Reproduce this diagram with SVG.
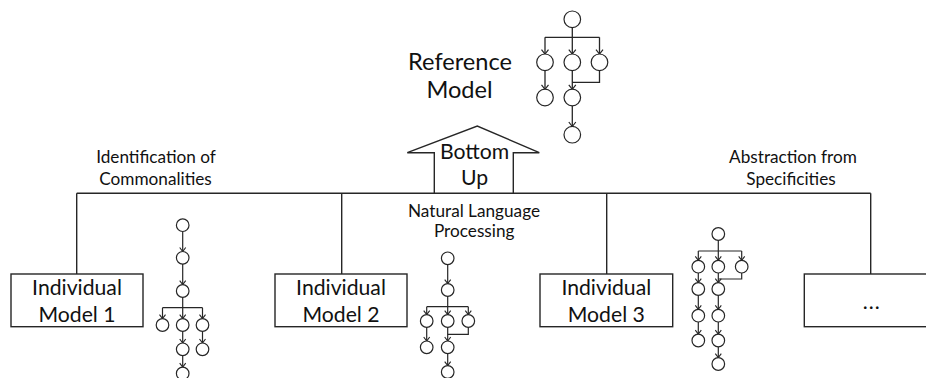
<svg xmlns="http://www.w3.org/2000/svg" width="926" height="378" viewBox="0 0 926 378">
  <defs>
    <marker id="tipL" markerUnits="userSpaceOnUse" markerWidth="12" markerHeight="12" refX="0" refY="0" viewBox="-6 -6 12 12" orient="auto" overflow="visible">
      <path d="M-4.5,-3.5 L0,0 L-4.5,3.5" fill="none" stroke="#262626" stroke-width="1.2"/>
    </marker>
    <marker id="tipS" markerUnits="userSpaceOnUse" markerWidth="10" markerHeight="10" refX="0" refY="0" viewBox="-5 -5 10 10" orient="auto" overflow="visible">
      <path d="M-4,-3 L0,0 L-4,3" fill="none" stroke="#262626" stroke-width="1.1"/>
    </marker>
  </defs>
  <style>
    .ln { fill: none; stroke: #262626; stroke-width: 1.4; }
    .box { fill: #fff; stroke: #262626; stroke-width: 1.4; }
    .st { fill: #fff; stroke: #262626; stroke-width: 1.2; }
    .e { fill: none; stroke: #262626; stroke-width: 1.2; }
    .eL { fill: none; stroke: #262626; stroke-width: 1.3; }
    .a { marker-end: url(#tipS); }
    .aL { marker-end: url(#tipL); }
    text { font-family: Lato, "Liberation Sans", sans-serif; fill: #111; text-anchor: middle; }
    .big { font-size: 23.6px; }
    .mid { font-size: 21.2px; }
    .sm { font-size: 17.2px; }
  </style>
  <rect width="926" height="378" fill="#fff"/>

  <!-- hierarchy lines from the individual models up to the reference model -->
  <g id="connectors">
    <path class="ln" d="M76.7,193.3 H870.7"/>
    <path class="ln" d="M76.7,193.3 V274"/>
    <path class="ln" d="M341.7,193.3 V274"/>
    <path class="ln" d="M606.7,193.3 V274"/>
    <path class="ln" d="M870.7,193.3 V274"/>
  </g>

  <!-- bottom-up arrow -->
  <g id="bottom-up">
    <polyline class="ln" points="434.3,193.3 434.3,152.7 407.3,152.7 477.3,126 539.3,152.7 513.3,152.7 513.3,193.3" fill="#fff"/>
    <text class="mid" x="474.5" y="159.3">Bottom</text>
    <text class="mid" x="474.7" y="185">Up</text>
  </g>

  <!-- reference model -->
  <g id="reference-model">
    <text class="big" x="460" y="70">Reference</text>
    <text class="big" x="459.5" y="98.3">Model</text>
    <g id="reference-graph">
      <path class="eL" d="M572.3,27.3 V37.3 M545,37.3 H599.5"/>
      <path class="eL aL" d="M545,37.3 V54.1"/>
      <path class="eL aL" d="M572.3,37.3 V54.1"/>
      <path class="eL aL" d="M599.5,37.3 V54.1"/>
      <path class="eL aL" d="M545,70.5 V89.3"/>
      <path class="eL aL" d="M572.3,70.5 V89.3"/>
      <path class="eL" d="M599.5,70.5 V82.3 H572.3"/>
      <path class="eL aL" d="M572.3,105.7 V126.5"/>
      <circle class="st" cx="572.3" cy="19.3" r="8.3"/>
      <circle class="st" cx="545" cy="62.3" r="8.3"/>
      <circle class="st" cx="572.3" cy="62.3" r="8.3"/>
      <circle class="st" cx="599.5" cy="62.3" r="8.3"/>
      <circle class="st" cx="545" cy="97.5" r="8.3"/>
      <circle class="st" cx="572.3" cy="97.5" r="8.3"/>
      <circle class="st" cx="572.3" cy="134.7" r="8.3"/>
    </g>
  </g>

  <!-- side labels -->
  <g id="label-commonalities">
    <text class="sm" x="156" y="163.3">Identification of</text>
    <text class="sm" x="155.5" y="185">Commonalities</text>
  </g>
  <g id="label-nlp">
    <text class="sm" x="474" y="216.7">Natural Language</text>
    <text class="sm" x="474.2" y="237">Processing</text>
  </g>
  <g id="label-abstraction">
    <text class="sm" x="793" y="163.3">Abstraction from</text>
    <text class="sm" x="791" y="185">Specificities</text>
  </g>

  <!-- individual model 1 -->
  <g id="model-1">
    <rect class="box" x="11" y="274" width="132" height="52.7"/>
    <text class="mid" x="77" y="295">Individual</text>
    <text class="mid" x="77" y="321.7">Model 1</text>
    <g id="graph-1">
      <path class="e a" d="M182.7,231.5 V251.5"/>
      <path class="e a" d="M182.7,264.1 V284.7"/>
      <path class="e" d="M182.7,297.3 V307.7 M162.5,307.7 H202.5"/>
      <path class="e a" d="M162.5,307.7 V318.7"/>
      <path class="e a" d="M182.7,307.7 V318.7"/>
      <path class="e a" d="M202.5,307.7 V318.7"/>
      <path class="e a" d="M182.7,331.3 V343"/>
      <path class="e a" d="M202.5,331.3 V343"/>
      <path class="e a" d="M182.7,355.6 V367.2"/>
      <circle class="st" cx="182.7" cy="225.2" r="6.3"/>
      <circle class="st" cx="182.7" cy="257.8" r="6.3"/>
      <circle class="st" cx="182.7" cy="291" r="6.3"/>
      <circle class="st" cx="162.5" cy="325" r="6.3"/>
      <circle class="st" cx="182.7" cy="325" r="6.3"/>
      <circle class="st" cx="202.5" cy="325" r="6.3"/>
      <circle class="st" cx="182.7" cy="349.3" r="6.3"/>
      <circle class="st" cx="202.5" cy="349.3" r="6.3"/>
      <circle class="st" cx="182.7" cy="373.5" r="6.3"/>
    </g>
  </g>

  <!-- individual model 2 -->
  <g id="model-2">
    <rect class="box" x="275" y="274" width="132" height="52.7"/>
    <text class="mid" x="341" y="295">Individual</text>
    <text class="mid" x="341" y="321.7">Model 2</text>
    <g id="graph-2">
      <path class="e a" d="M447.7,264.6 V283.7"/>
      <path class="e" d="M447.7,296.3 V306.7 M426.7,306.7 H468.3"/>
      <path class="e a" d="M426.7,306.7 V314.7"/>
      <path class="e a" d="M447.7,306.7 V314.7"/>
      <path class="e a" d="M468.3,306.7 V314.7"/>
      <path class="e a" d="M426.7,327.3 V341"/>
      <path class="e a" d="M447.7,327.3 V341"/>
      <path class="e" d="M468.3,327.3 V334.3 H447.7"/>
      <path class="e a" d="M447.7,353.6 V365.7"/>
      <circle class="st" cx="447.7" cy="258.3" r="6.3"/>
      <circle class="st" cx="447.7" cy="290" r="6.3"/>
      <circle class="st" cx="426.7" cy="321" r="6.3"/>
      <circle class="st" cx="447.7" cy="321" r="6.3"/>
      <circle class="st" cx="468.3" cy="321" r="6.3"/>
      <circle class="st" cx="426.7" cy="347.3" r="6.3"/>
      <circle class="st" cx="447.7" cy="347.3" r="6.3"/>
      <circle class="st" cx="447.7" cy="372" r="6.3"/>
    </g>
  </g>

  <!-- individual model 3 -->
  <g id="model-3">
    <rect class="box" x="540" y="274" width="132.7" height="52.7"/>
    <text class="mid" x="606.3" y="295">Individual</text>
    <text class="mid" x="606.3" y="321.7">Model 3</text>
    <g id="graph-3">
      <path class="e" d="M718.3,240.3 V251 M698.3,251 H741.7"/>
      <path class="e a" d="M698.3,251 V260.4"/>
      <path class="e a" d="M718.3,251 V260.4"/>
      <path class="e a" d="M741.7,251 V260.4"/>
      <path class="e a" d="M698.3,273 V282.7"/>
      <path class="e a" d="M718.3,273 V282.7"/>
      <path class="e" d="M741.7,273 V279 H718.3"/>
      <path class="e a" d="M698.3,295.3 V309.4"/>
      <path class="e a" d="M718.3,295.3 V309.4"/>
      <path class="e a" d="M698.3,322 V334.2"/>
      <path class="e a" d="M718.3,322 V334.2"/>
      <path class="e a" d="M718.3,346.8 V357.7"/>
      <circle class="st" cx="718.3" cy="234" r="6.3"/>
      <circle class="st" cx="698.3" cy="266.7" r="6.3"/>
      <circle class="st" cx="718.3" cy="266.7" r="6.3"/>
      <circle class="st" cx="741.7" cy="266.7" r="6.3"/>
      <circle class="st" cx="698.3" cy="289" r="6.3"/>
      <circle class="st" cx="718.3" cy="289" r="6.3"/>
      <circle class="st" cx="698.3" cy="315.7" r="6.3"/>
      <circle class="st" cx="718.3" cy="315.7" r="6.3"/>
      <circle class="st" cx="698.3" cy="340.5" r="6.3"/>
      <circle class="st" cx="718.3" cy="340.5" r="6.3"/>
      <circle class="st" cx="718.3" cy="364" r="6.3"/>
    </g>
  </g>

  <!-- further models -->
  <g id="model-more">
    <rect class="box" x="804.3" y="274" width="132" height="52.7"/>
    <text class="mid" x="871.7" y="309" letter-spacing="1">...</text>
  </g>
</svg>
